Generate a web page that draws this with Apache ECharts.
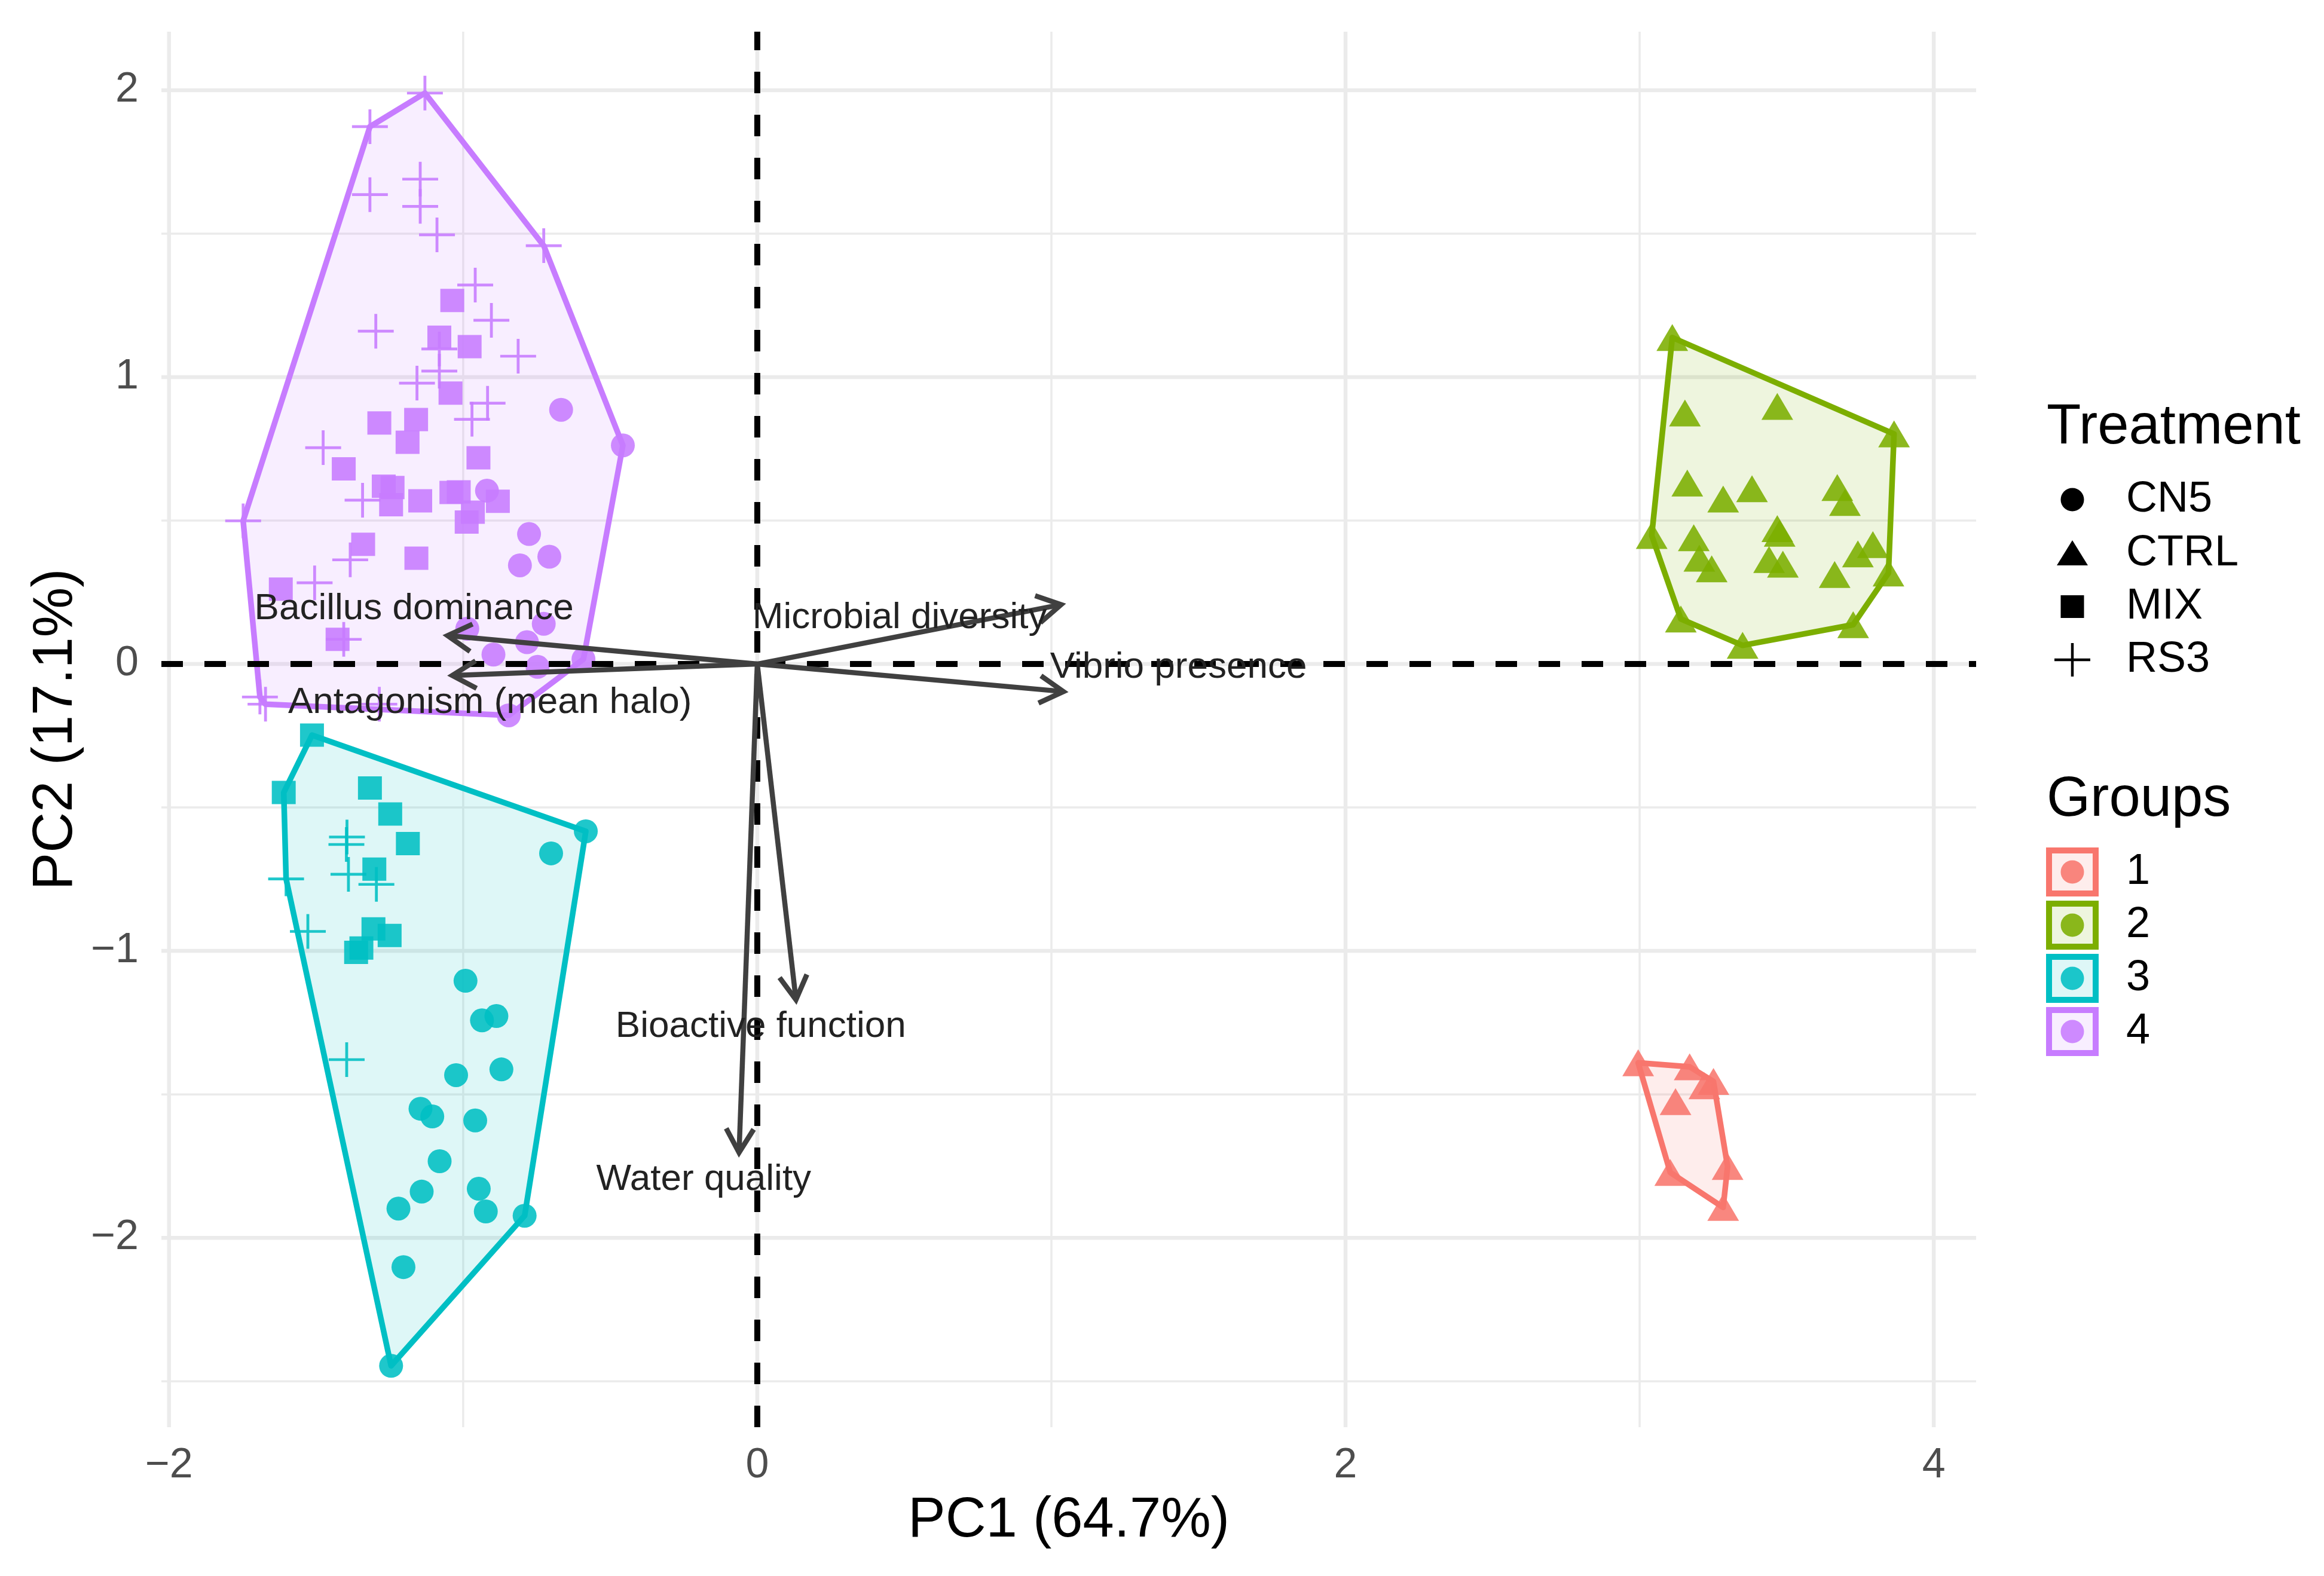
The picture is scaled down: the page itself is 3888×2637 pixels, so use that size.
<!DOCTYPE html>
<html>
<head>
<meta charset="utf-8">
<script src="https://cdn.jsdelivr.net/npm/echarts@6/dist/echarts.min.js"></script>
<style>
html, body { margin: 0; padding: 0; background: #fff; }
#chart { width: 3888px; height: 2637px; }
</style>
</head>
<body>
<div id="chart"></div>
<script>
// PCA scores (PC1, PC2)
const g1CTRL = [[2.995, -1.39], [3.17, -1.404], [3.251, -1.455], [3.22, -1.47], [3.122, -1.525],
    [3.104, -1.772], [3.299, -1.751], [3.284, -1.894]]

const g2CTRL = [[3.111, 1.138], [3.154, 0.875], [3.468, 0.898], [3.865, 0.802], [3.162, 0.631],
    [3.284, 0.575], [3.382, 0.611], [3.672, 0.615], [3.698, 0.563], [3.041, 0.448], [3.184, 0.44],
    [3.468, 0.472], [3.476, 0.456], [3.203, 0.369], [3.245, 0.332], [3.44, 0.364], [3.487, 0.348],
    [3.793, 0.416], [3.742, 0.384], [3.663, 0.312], [3.846, 0.317], [3.14, 0.157], [3.35, 0.065],
    [3.726, 0.137]]

const g3CN5 = [[-0.583, -0.583], [-0.701, -0.66], [-0.992, -1.104], [-0.887, -1.227], [-0.936, -1.242],
    [-1.024, -1.433], [-0.87, -1.413], [-1.145, -1.55], [-1.105, -1.577], [-0.959, -1.591],
    [-1.08, -1.733], [-1.141, -1.839], [-1.22, -1.898], [-0.947, -1.829], [-0.923, -1.908],
    [-0.791, -1.923], [-1.203, -2.102], [-1.245, -2.446]]
const g3MIX = [[-1.514, -0.248], [-1.61, -0.448], [-1.317, -0.432], [-1.248, -0.523], [-1.188, -0.626],
    [-1.302, -0.715], [-1.305, -0.923], [-1.25, -0.946], [-1.346, -0.99], [-1.364, -1.005]]
const g3RS3 = [[-1.395, -0.603], [-1.397, -0.629], [-1.39, -0.733], [-1.295, -0.768], [-1.602, -0.749],
    [-1.528, -0.932], [-1.396, -1.379]]

const g4CN5 = [[-0.667, 0.886], [-0.457, 0.762], [-0.919, 0.604], [-0.776, 0.453], [-0.707, 0.374],
    [-0.807, 0.344], [-0.986, 0.123], [-0.726, 0.14], [-0.783, 0.076], [-0.897, 0.033],
    [-0.747, -0.01], [-0.591, 0.017], [-0.845, -0.179]]
const g4MIX = [[-1.037, 1.267], [-1.081, 1.139], [-0.978, 1.106], [-1.043, 0.944], [-1.285, 0.84],
    [-1.16, 0.852], [-1.189, 0.773], [-1.406, 0.68], [-0.948, 0.719], [-1.27, 0.62], [-1.24, 0.615],
    [-1.245, 0.555], [-1.146, 0.569], [-1.04, 0.598], [-1.015, 0.6], [-0.882, 0.567], [-0.967, 0.529],
    [-0.988, 0.495], [-1.34, 0.417], [-1.159, 0.369], [-1.62, 0.261], [-1.427, 0.086]]
const g4RS3 = [[-1.13, 1.99], [-1.317, 1.873], [-1.317, 1.636], [-1.146, 1.69], [-1.146, 1.595],
    [-1.089, 1.496], [-0.726, 1.458], [-0.959, 1.321], [-0.904, 1.198], [-1.297, 1.16],
    [-1.081, 1.098], [-0.813, 1.073], [-1.081, 1.021], [-1.157, 0.979], [-0.917, 0.909],
    [-0.97, 0.853], [-1.476, 0.754], [-1.342, 0.571], [-1.748, 0.499], [-1.384, 0.363],
    [-1.505, 0.283], [-1.406, 0.086], [-1.691, -0.115], [-1.672, -0.14], [-1.285, -0.14]]

// loadings (arrow tips) and where their labels sit
const loadingNames = ['Bacillus dominance', 'Antagonism (mean halo)', 'Microbial diversity',
    'Vibrio presence', 'Bioactive function', 'Water quality']
const loadingX = [-1.053, -1.037, 1.033, 1.041, 0.1315, -0.062]
const loadingY = [0.099, -0.04, 0.207, -0.096, -1.17, -1.703]
const labelX = [-1.167, -0.909, 0.484, 1.432, 0.012, -0.182]
const labelY = [0.192, -0.135, 0.16, -0.012, -1.265, -1.798]

const xTicks = [-2, 0, 2, 4]
const xMinor = [-1, 1, 3]
const yTicks = [-2, -1, 0, 1, 2]
const yMinor = [-2.5, -1.5, -0.5, 0.5, 1.5]
const treatmentNames = ['CN5', 'CTRL', 'MIX', 'RS3']
const groupNames = ['1', '2', '3', '4']

const xMin = -2.026, xMax = 4.144, yMin = -2.66, yMax = 2.204
const groupColors = ['#F8766D', '#7CAE00', '#00BFC4', '#C77CFF']
const FONT = '"Liberation Sans", Arial, sans-serif'
const crossPath = 'path://M0,46H100V54H0Z M46,0H54V100H46Z'
const shapeOf = { CN5: 'circle', CTRL: 'triangle', MIX: 'rect', RS3: crossPath }
const sizeOf = { CN5: [40, 40], CTRL: [53, 45], MIX: [40, 39], RS3: [60, 58] }

const pointSets = [
    { group: 0, treat: 'CTRL', data: g1CTRL },
    { group: 1, treat: 'CTRL', data: g2CTRL },
    { group: 2, treat: 'CN5', data: g3CN5 },
    { group: 2, treat: 'MIX', data: g3MIX },
    { group: 2, treat: 'RS3', data: g3RS3 },
    { group: 3, treat: 'CN5', data: g4CN5 },
    { group: 3, treat: 'MIX', data: g4MIX },
    { group: 3, treat: 'RS3', data: g4RS3 }
]

function fade(hex, a) {
    let r = parseInt(hex.slice(1, 3), 16), g = parseInt(hex.slice(3, 5), 16), b = parseInt(hex.slice(5, 7), 16)
    return 'rgba(' + r + ',' + g + ',' + b + ',' + a + ')'
}

// convex hull (monotone chain)
function hull(points) {
    let p = points.slice().sort((a, b) => a[0] - b[0] || a[1] - b[1])
    let cross = (o, a, b) => (a[0] - o[0]) * (b[1] - o[1]) - (a[1] - o[1]) * (b[0] - o[0])
    let lower = [], upper = []
    for (let q of p) {
        while (lower.length >= 2 && cross(lower[lower.length - 2], lower[lower.length - 1], q) <= 0) lower.pop()
        lower.push(q)
    }
    for (let i = p.length - 1; i >= 0; i--) {
        let q = p[i]
        while (upper.length >= 2 && cross(upper[upper.length - 2], upper[upper.length - 1], q) <= 0) upper.pop()
        upper.push(q)
    }
    upper.pop(); lower.pop()
    return lower.concat(upper)
}

let hulls = groupNames.map((g, gi) => {
    let all = []
    pointSets.filter(s => s.group === gi).forEach(s => { all = all.concat(s.data) })
    return hull(all)
})

let gridData = []
xTicks.forEach(v => gridData.push([v, 0, 1]))
xMinor.forEach(v => gridData.push([v, 0, 0]))
yTicks.forEach(v => gridData.push([v, 1, 1]))
yMinor.forEach(v => gridData.push([v, 1, 0]))

function axisLine(api, v, horiz) {
    let a = horiz ? api.coord([xMin, v]) : api.coord([v, yMin])
    let b = horiz ? api.coord([xMax, v]) : api.coord([v, yMax])
    return { x1: a[0], y1: a[1], x2: b[0], y2: b[1] }
}

let series = []

series.push({
    type: 'custom', name: 'grid', z: 1, silent: true,
    data: gridData,
    renderItem: function (params, api) {
        return {
            type: 'line',
            shape: axisLine(api, api.value(0), api.value(1) === 1),
            style: { stroke: '#EBEBEB', lineWidth: api.value(2) ? 6.5 : 3.5 }
        }
    }
})

pointSets.forEach(s => {
    let c = groupColors[s.group]
    series.push({
        type: 'scatter', z: 2, silent: true,
        symbol: shapeOf[s.treat],
        symbolSize: sizeOf[s.treat],
        itemStyle: { color: c, opacity: 0.88 },
        data: s.data
    })
})

series.push({
    type: 'custom', name: 'hulls', z: 3, silent: true,
    data: hulls.map((h, i) => [0, 0, i]),
    renderItem: function (params, api) {
        let gi = api.value(2)
        let pts = hulls[gi].map(p => api.coord(p))
        return {
            type: 'polygon',
            shape: { points: pts },
            style: { fill: fade(groupColors[gi], 0.13), stroke: groupColors[gi], lineWidth: 9.5, lineJoin: 'round' }
        }
    }
})

series.push({
    type: 'custom', name: 'zero', z: 4, silent: true,
    data: [[0, 0], [0, 1]],
    renderItem: function (params, api) {
        return {
            type: 'line',
            shape: axisLine(api, 0, api.value(1) === 1),
            style: { stroke: '#000', lineWidth: 10, lineDash: [36, 36] }
        }
    }
})

series.push({
    type: 'custom', name: 'loadings', z: 5, silent: true,
    data: loadingX.map((x, i) => [x, loadingY[i], i]),
    renderItem: function (params, api) {
        let i = api.value(2)
        let o = api.coord([0, 0])
        let t = api.coord([api.value(0), api.value(1)])
        let ang = Math.atan2(t[1] - o[1], t[0] - o[0])
        let len = 46, spread = Math.PI / 6
        let a1 = [t[0] - len * Math.cos(ang - spread), t[1] - len * Math.sin(ang - spread)]
        let a2 = [t[0] - len * Math.cos(ang + spread), t[1] - len * Math.sin(ang + spread)]
        let lp = api.coord([labelX[i], labelY[i]])
        let st = { stroke: '#404040', lineWidth: 8.5, lineCap: 'butt', lineJoin: 'miter' }
        return {
            type: 'group',
            children: [
                { type: 'line', shape: { x1: o[0], y1: o[1], x2: t[0], y2: t[1] }, style: st },
                { type: 'polyline', shape: { points: [a1, t, a2] }, style: Object.assign({ fill: null }, st) },
                {
                    type: 'text', x: lp[0], y: lp[1], z2: 10,
                    style: {
                        text: loadingNames[i], fill: '#222', font: '62px ' + FONT,
                        align: 'center', verticalAlign: 'middle'
                    }
                }
            ]
        }
    }
})

// legend drawn as graphic elements
const legX = 3424, symX = 3467, txtX = 3557
const treatRowY = [836, 926, 1015, 1104]
const groupRowY = [1459, 1548, 1637, 1726]
let graphics = []
let txt = (s, x, y, size) => ({
    type: 'text', x: x, y: y,
    style: { text: s, fill: '#000', font: size + 'px ' + FONT, align: 'left', verticalAlign: 'middle' }
})
graphics.push(txt('Treatment', legX, 716, 94))
treatmentNames.forEach((t, i) => {
    let y = treatRowY[i]
    let k = '#000'
    if (t === 'CN5') graphics.push({ type: 'circle', shape: { cx: symX, cy: y, r: 19.5 }, style: { fill: k } })
    if (t === 'CTRL') graphics.push({ type: 'polygon', shape: { points: [[symX, y - 22], [symX + 26, y + 20], [symX - 26, y + 20]] }, style: { fill: k } })
    if (t === 'MIX') graphics.push({ type: 'rect', shape: { x: symX - 19.5, y: y - 19, width: 39, height: 38 }, style: { fill: k } })
    if (t === 'RS3') {
        graphics.push({ type: 'line', shape: { x1: symX - 30, y1: y, x2: symX + 30, y2: y }, style: { stroke: k, lineWidth: 4.5 } })
        graphics.push({ type: 'line', shape: { x1: symX, y1: y - 28, x2: symX, y2: y + 28 }, style: { stroke: k, lineWidth: 4.5 } })
    }
    graphics.push(txt(t, txtX, y, 72))
})
graphics.push(txt('Groups', legX, 1339, 94))
groupNames.forEach((g, i) => {
    let y = groupRowY[i], c = groupColors[i]
    graphics.push({ type: 'rect', shape: { x: symX - 39, y: y - 36, width: 78, height: 72 }, style: { fill: fade(c, 0.13), stroke: c, lineWidth: 10 } })
    graphics.push({ type: 'circle', shape: { cx: symX, cy: y, r: 19.5 }, style: { fill: c, opacity: 0.88 } })
    graphics.push(txt(g, txtX, y, 72))
})

let minusFmt = v => v < 0 ? '\u2212' + Math.abs(v) : String(v)

let chart = echarts.init(document.getElementById('chart'))
chart.setOption({
    animation: false,
    backgroundColor: '#fff',
    grid: { left: 270, right: 582, top: 53, bottom: 249, containLabel: false },
    xAxis: {
        type: 'value', min: xMin, max: xMax,
        name: 'PC1 (64.7%)', nameLocation: 'middle', nameGap: 110,
        nameTextStyle: { fontSize: 94, color: '#000', fontFamily: FONT },
        axisLine: { show: false }, axisTick: { show: false }, splitLine: { show: false },
        axisLabel: { customValues: xTicks, formatter: minusFmt, fontSize: 70, color: '#4D4D4D', fontFamily: FONT, margin: 30 }
    },
    yAxis: {
        type: 'value', min: yMin, max: yMax,
        name: 'PC2 (17.1%)', nameLocation: 'middle', nameGap: 128,
        nameTextStyle: { fontSize: 94, color: '#000', fontFamily: FONT },
        axisLine: { show: false }, axisTick: { show: false }, splitLine: { show: false },
        axisLabel: { customValues: yTicks, formatter: minusFmt, fontSize: 70, color: '#4D4D4D', fontFamily: FONT, margin: 38 }
    },
    graphic: graphics,
    series: series
})
</script>
</body>
</html>
